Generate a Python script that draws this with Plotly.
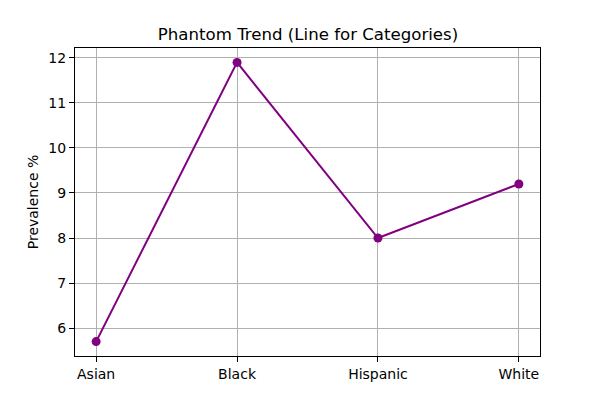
import plotly.graph_objects as go

groups = ['Asian', 'Black', 'Hispanic', 'White']
prevalence = [5.7, 11.9, 8.0, 9.2]

trace0 = go.Scatter(x=groups,
                    y=prevalence,
                    mode='lines+markers',
                    line=dict(color='purple', width=2),
                    marker=dict(color='purple', size=9),
                    showlegend=False)

# page body has an 8px margin, so shift everything up/left by 8
layout = go.Layout(
    width=600, height=400,
    margin=dict(l=67, r=68, t=40, b=52),
    paper_bgcolor='white', plot_bgcolor='white',
    font=dict(family='DejaVu Sans', size=14, color='black'),
    title=dict(text='Phantom Trend (Line for Categories)', x=0.5, xanchor='center',
               y=1 - 26 / 400, yanchor='middle', font=dict(size=16.6)),
    xaxis=dict(range=[-0.15, 3.15], showline=True, linecolor='black', linewidth=1,
               mirror=True, ticks='outside', ticklen=5, tickcolor='black',
               showgrid=True, gridcolor='#b0b0b0', gridwidth=1, zeroline=False),
    yaxis=dict(range=[5.38, 12.22], dtick=1, showline=True, linecolor='black', linewidth=1,
               mirror=True, ticks='outside', ticklen=5, tickcolor='black',
               showgrid=True, gridcolor='#b0b0b0', gridwidth=1, zeroline=False,
               title=dict(text='Prevalence %', standoff=6, font=dict(size=14))),
)

fig = go.Figure(data=[trace0], layout=layout)
fig.write_html('out.html')
